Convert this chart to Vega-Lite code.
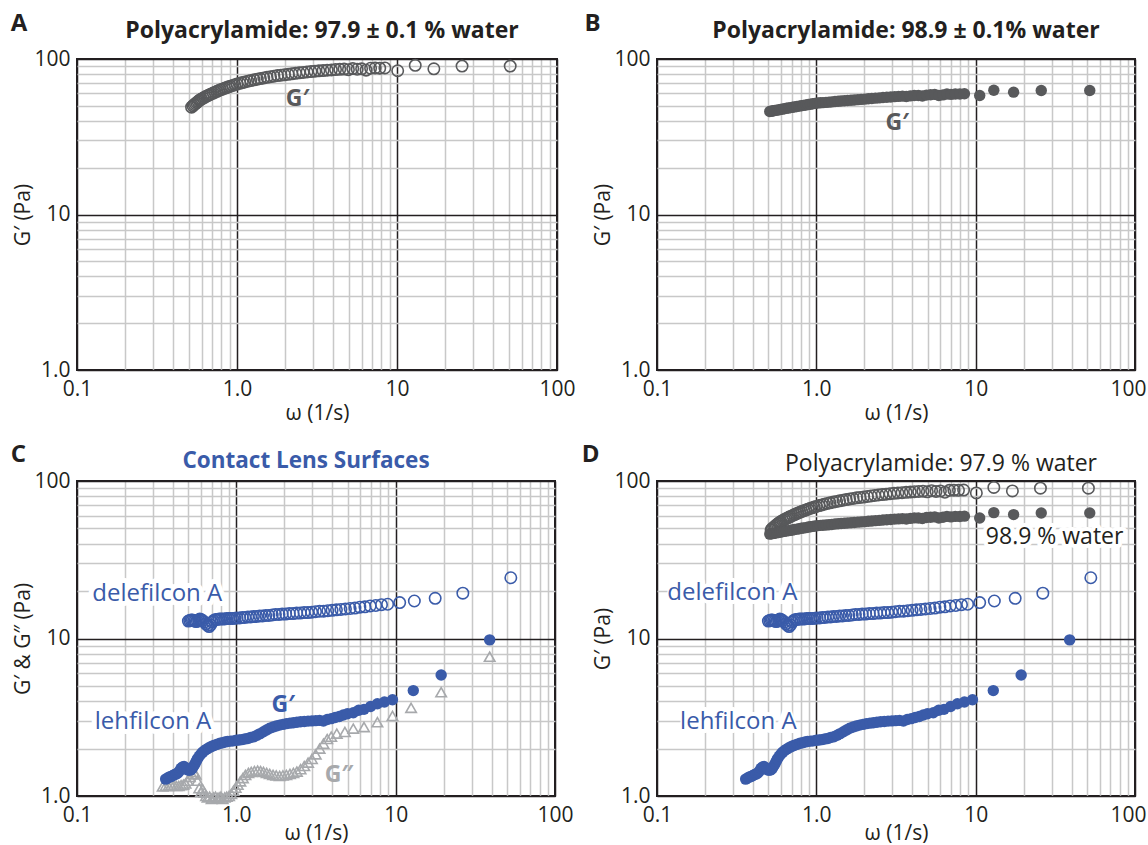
{
  "$schema": "https://vega.github.io/schema/vega-lite/v6.json",
  "padding": {"left": 9, "top": 10, "right": 0, "bottom": 0},
  "background": "white",
  "config": {
    "font": "Open Sans",
    "view": {"stroke": "#231f20", "strokeWidth": 2},
    "axis": {"labelFont": "Open Sans", "labelFontSize": 21, "labelColor": "#231f20", "titleFont": "Open Sans", "titleFontSize": 21, "titleFontWeight": "normal", "titleColor": "#231f20", "ticks": false, "domain": false, "labelOverlap": false, "labelFlush": false, "gridWidth": 1.5},
    "title": {"font": "Open Sans", "fontSize": 23, "color": "#231f20", "anchor": "middle", "fontWeight": "bold"}
  },
  "datasets": {
    "pam979": [
      {"omega":0.52,"G":49},{"omega":0.53,"G":50},{"omega":0.54,"G":50.8},{"omega":0.55,"G":51.6},{"omega":0.56,"G":52.4},{"omega":0.57,"G":53.2},{"omega":0.58,"G":54},{"omega":0.59,"G":54.7},{"omega":0.6,"G":55.3},{"omega":0.615,"G":56.1},{"omega":0.63,"G":56.9},{"omega":0.645,"G":57.6},{"omega":0.66,"G":58.3},{"omega":0.675,"G":59},{"omega":0.69,"G":59.6},{"omega":0.71,"G":60.4},{"omega":0.73,"G":61.2},{"omega":0.75,"G":62},{"omega":0.77,"G":62.7},{"omega":0.79,"G":63.4},{"omega":0.81,"G":64},{"omega":0.835,"G":64.8},{"omega":0.86,"G":65.5},{"omega":0.885,"G":66.2},{"omega":0.91,"G":66.9},{"omega":0.94,"G":67.6},{"omega":0.97,"G":68.3},{"omega":1.0,"G":69},{"omega":1.04,"G":69.8},{"omega":1.08,"G":70.5},{"omega":1.12,"G":71.2},{"omega":1.17,"G":72},{"omega":1.22,"G":72.7},{"omega":1.28,"G":73.5},{"omega":1.34,"G":74.2},{"omega":1.4,"G":74.8},{"omega":1.47,"G":75.5},{"omega":1.54,"G":76.2},{"omega":1.62,"G":76.9},{"omega":1.7,"G":77.5},{"omega":1.79,"G":78.2},{"omega":1.88,"G":78.6},{"omega":1.98,"G":79.1},{"omega":2.09,"G":79.7},{"omega":2.2,"G":80.3},{"omega":2.32,"G":80.9},{"omega":2.45,"G":81.5},{"omega":2.59,"G":82},{"omega":2.74,"G":82.5},{"omega":2.9,"G":83},{"omega":3.07,"G":83.5},{"omega":3.25,"G":83.9},{"omega":3.45,"G":84.3},{"omega":3.66,"G":84.7},{"omega":3.89,"G":85},{"omega":4.13,"G":85.5},{"omega":4.39,"G":85.8},{"omega":4.67,"G":86.2},{"omega":4.97,"G":85.4},{"omega":5.29,"G":86.8},{"omega":5.64,"G":85.9},{"omega":6.01,"G":86.5},{"omega":6.41,"G":84.8},{"omega":6.84,"G":87.2},{"omega":7.3,"G":87.5},{"omega":7.8,"G":87.3},{"omega":8.4,"G":87.6},{"omega":10.1,"G":84},{"omega":13,"G":91},{"omega":17,"G":86.5},{"omega":25.5,"G":90},{"omega":51,"G":90}
    ],
    "pam989": [
      {"omega":0.51,"G":46},{"omega":0.52,"G":46.2},{"omega":0.53,"G":46.3},{"omega":0.54,"G":46.5},{"omega":0.55,"G":46.7},{"omega":0.565,"G":46.9},{"omega":0.58,"G":47.1},{"omega":0.595,"G":47.4},{"omega":0.61,"G":47.6},{"omega":0.63,"G":47.9},{"omega":0.65,"G":48.2},{"omega":0.67,"G":48.4},{"omega":0.69,"G":48.7},{"omega":0.71,"G":48.9},{"omega":0.73,"G":49.2},{"omega":0.755,"G":49.5},{"omega":0.78,"G":49.8},{"omega":0.805,"G":50.1},{"omega":0.83,"G":50.3},{"omega":0.86,"G":50.6},{"omega":0.89,"G":51},{"omega":0.92,"G":51.2},{"omega":0.95,"G":51.5},{"omega":0.98,"G":51.8},{"omega":1.02,"G":52.1},{"omega":1.06,"G":52.3},{"omega":1.1,"G":52.4},{"omega":1.15,"G":52.6},{"omega":1.2,"G":52.8},{"omega":1.25,"G":53},{"omega":1.31,"G":53.3},{"omega":1.37,"G":53.5},{"omega":1.43,"G":53.7},{"omega":1.5,"G":53.9},{"omega":1.57,"G":54.1},{"omega":1.65,"G":54.3},{"omega":1.73,"G":54.5},{"omega":1.82,"G":54.8},{"omega":1.91,"G":55},{"omega":2.01,"G":55.2},{"omega":2.12,"G":55.5},{"omega":2.23,"G":55.7},{"omega":2.35,"G":56},{"omega":2.48,"G":56.2},{"omega":2.62,"G":56.5},{"omega":2.77,"G":56.7},{"omega":2.93,"G":57},{"omega":3.1,"G":57.3},{"omega":3.28,"G":57.5},{"omega":3.47,"G":57.7},{"omega":3.67,"G":57.4},{"omega":3.89,"G":57.9},{"omega":4.12,"G":58.3},{"omega":4.37,"G":58.2},{"omega":4.63,"G":57.8},{"omega":4.91,"G":58.6},{"omega":5.21,"G":58.9},{"omega":5.53,"G":59.2},{"omega":5.87,"G":58.2},{"omega":6.23,"G":58.8},{"omega":6.6,"G":59.6},{"omega":7.0,"G":59.2},{"omega":7.45,"G":59.6},{"omega":7.95,"G":59.5},{"omega":8.5,"G":59.8},{"omega":10.6,"G":58.2},{"omega":13,"G":63},{"omega":17.3,"G":61.2},{"omega":25.8,"G":62.7},{"omega":52,"G":62.7}
    ],
    "dele": [
      {"omega":0.5,"G":12.9},{"omega":0.51,"G":13.0},{"omega":0.52,"G":13.1},{"omega":0.53,"G":13.1},{"omega":0.54,"G":13.0},{"omega":0.55,"G":12.9},{"omega":0.56,"G":12.8},{"omega":0.57,"G":12.9},{"omega":0.58,"G":13.1},{"omega":0.59,"G":13.3},{"omega":0.6,"G":13.2},{"omega":0.615,"G":13.0},{"omega":0.63,"G":12.7},{"omega":0.645,"G":12.4},{"omega":0.66,"G":12.1},{"omega":0.675,"G":11.9},{"omega":0.69,"G":12.2},{"omega":0.705,"G":12.7},{"omega":0.72,"G":13.0},{"omega":0.74,"G":13.2},{"omega":0.76,"G":13.2},{"omega":0.78,"G":13.3},{"omega":0.8,"G":13.3},{"omega":0.82,"G":13.3},{"omega":0.845,"G":13.3},{"omega":0.87,"G":13.4},{"omega":0.895,"G":13.4},{"omega":0.92,"G":13.4},{"omega":0.95,"G":13.4},{"omega":0.98,"G":13.45},{"omega":1.01,"G":13.5},{"omega":1.05,"G":13.5},{"omega":1.09,"G":13.6},{"omega":1.13,"G":13.6},{"omega":1.18,"G":13.7},{"omega":1.23,"G":13.7},{"omega":1.28,"G":13.8},{"omega":1.34,"G":13.8},{"omega":1.4,"G":13.9},{"omega":1.46,"G":13.9},{"omega":1.53,"G":14.0},{"omega":1.6,"G":14.0},{"omega":1.68,"G":14.1},{"omega":1.76,"G":14.2},{"omega":1.85,"G":14.2},{"omega":1.94,"G":14.3},{"omega":2.04,"G":14.3},{"omega":2.15,"G":14.4},{"omega":2.27,"G":14.4},{"omega":2.39,"G":14.5},{"omega":2.52,"G":14.5},{"omega":2.66,"G":14.6},{"omega":2.81,"G":14.6},{"omega":2.97,"G":14.7},{"omega":3.14,"G":14.8},{"omega":3.33,"G":14.9},{"omega":3.53,"G":14.9},{"omega":3.75,"G":15.0},{"omega":3.99,"G":15.1},{"omega":4.25,"G":15.2},{"omega":4.53,"G":15.3},{"omega":4.84,"G":15.4},{"omega":5.18,"G":15.5},{"omega":5.55,"G":15.6},{"omega":5.96,"G":15.8},{"omega":6.41,"G":15.9},{"omega":6.92,"G":16.1},{"omega":7.5,"G":16.2},{"omega":8.15,"G":16.4},{"omega":8.9,"G":16.5},{"omega":10.6,"G":16.9},{"omega":13.1,"G":17.3},{"omega":17.7,"G":18.0},{"omega":26.4,"G":19.4},{"omega":52.8,"G":24.3}
    ],
    "lehG1": [
      {"omega":0.36,"G":1.28},{"omega":0.37,"G":1.3},{"omega":0.38,"G":1.32},{"omega":0.39,"G":1.33},{"omega":0.4,"G":1.35},{"omega":0.41,"G":1.37},{"omega":0.42,"G":1.38},{"omega":0.43,"G":1.4},{"omega":0.44,"G":1.44},{"omega":0.45,"G":1.5},{"omega":0.46,"G":1.53},{"omega":0.47,"G":1.54},{"omega":0.48,"G":1.5},{"omega":0.49,"G":1.48},{"omega":0.5,"G":1.46},{"omega":0.51,"G":1.46},{"omega":0.52,"G":1.47},{"omega":0.53,"G":1.5},{"omega":0.54,"G":1.55},{"omega":0.55,"G":1.6},{"omega":0.56,"G":1.66},{"omega":0.57,"G":1.72},{"omega":0.585,"G":1.79},{"omega":0.6,"G":1.85},{"omega":0.615,"G":1.9},{"omega":0.63,"G":1.94},{"omega":0.65,"G":1.98},{"omega":0.67,"G":2.02},{"omega":0.69,"G":2.05},{"omega":0.71,"G":2.08},{"omega":0.73,"G":2.1},{"omega":0.76,"G":2.13},{"omega":0.79,"G":2.16},{"omega":0.82,"G":2.18},{"omega":0.85,"G":2.2},{"omega":0.88,"G":2.22},{"omega":0.92,"G":2.23},{"omega":0.96,"G":2.24},{"omega":1.0,"G":2.26},{"omega":1.04,"G":2.27},{"omega":1.08,"G":2.28},{"omega":1.13,"G":2.3},{"omega":1.18,"G":2.32},{"omega":1.23,"G":2.35},{"omega":1.29,"G":2.38},{"omega":1.35,"G":2.43},{"omega":1.41,"G":2.49},{"omega":1.48,"G":2.56},{"omega":1.55,"G":2.63},{"omega":1.62,"G":2.69},{"omega":1.7,"G":2.74},{"omega":1.78,"G":2.78},{"omega":1.87,"G":2.82},{"omega":1.96,"G":2.85},{"omega":2.06,"G":2.88},{"omega":2.17,"G":2.9},{"omega":2.28,"G":2.92},{"omega":2.4,"G":2.94},{"omega":2.53,"G":2.96},{"omega":2.67,"G":2.97},{"omega":2.82,"G":2.99},{"omega":2.98,"G":3.0},{"omega":3.15,"G":3.01},{"omega":3.33,"G":3.02},{"omega":3.52,"G":2.99},{"omega":3.72,"G":3.06},{"omega":3.94,"G":3.1},{"omega":4.17,"G":3.15},{"omega":4.42,"G":3.2},{"omega":4.69,"G":3.27},{"omega":4.98,"G":3.33},{"omega":5.42,"G":3.38},{"omega":5.86,"G":3.5},{"omega":6.33,"G":3.55},{"omega":6.96,"G":3.7},{"omega":7.68,"G":3.85},{"omega":8.5,"G":3.95},{"omega":9.55,"G":4.08},{"omega":12.9,"G":4.67},{"omega":19.3,"G":5.87},{"omega":38.9,"G":9.8}
    ],
    "lehG2": [
      {"omega":0.345,"G":1.15},{"omega":0.36,"G":1.16},{"omega":0.375,"G":1.16},{"omega":0.39,"G":1.17},{"omega":0.405,"G":1.17},{"omega":0.42,"G":1.16},{"omega":0.435,"G":1.16},{"omega":0.45,"G":1.17},{"omega":0.465,"G":1.18},{"omega":0.48,"G":1.2},{"omega":0.495,"G":1.25},{"omega":0.51,"G":1.32},{"omega":0.525,"G":1.38},{"omega":0.54,"G":1.42},{"omega":0.555,"G":1.37},{"omega":0.57,"G":1.25},{"omega":0.585,"G":1.12},{"omega":0.6,"G":1.06},{"omega":0.615,"G":1.1},{"omega":0.63,"G":1.05},{"omega":0.645,"G":1.0},{"omega":0.66,"G":0.98},{"omega":0.68,"G":0.99},{"omega":0.7,"G":0.96},{"omega":0.72,"G":0.98},{"omega":0.74,"G":0.99},{"omega":0.76,"G":0.97},{"omega":0.78,"G":0.98},{"omega":0.8,"G":0.99},{"omega":0.82,"G":0.96},{"omega":0.845,"G":0.98},{"omega":0.87,"G":0.99},{"omega":0.9,"G":1.0},{"omega":0.93,"G":1.03},{"omega":0.96,"G":1.08},{"omega":0.99,"G":1.13},{"omega":1.02,"G":1.18},{"omega":1.06,"G":1.24},{"omega":1.1,"G":1.3},{"omega":1.14,"G":1.36},{"omega":1.19,"G":1.4},{"omega":1.24,"G":1.42},{"omega":1.3,"G":1.44},{"omega":1.36,"G":1.45},{"omega":1.42,"G":1.44},{"omega":1.48,"G":1.42},{"omega":1.55,"G":1.4},{"omega":1.62,"G":1.38},{"omega":1.7,"G":1.36},{"omega":1.78,"G":1.35},{"omega":1.87,"G":1.34},{"omega":1.96,"G":1.35},{"omega":2.06,"G":1.36},{"omega":2.17,"G":1.38},{"omega":2.28,"G":1.4},{"omega":2.4,"G":1.43},{"omega":2.53,"G":1.48},{"omega":2.67,"G":1.55},{"omega":2.82,"G":1.63},{"omega":2.98,"G":1.72},{"omega":3.15,"G":1.84},{"omega":3.33,"G":2.0},{"omega":3.52,"G":2.15},{"omega":3.72,"G":2.3},{"omega":3.94,"G":2.38},{"omega":4.27,"G":2.49},{"omega":4.8,"G":2.55},{"omega":5.42,"G":2.68},{"omega":6.33,"G":2.74},{"omega":7.68,"G":2.94},{"omega":9.55,"G":3.22},{"omega":12.5,"G":3.63},{"omega":19.3,"G":4.56},{"omega":38.9,"G":7.66}
    ]
  },
  "concat": [
    {
      "width": 480, "height": 311,
      "title": {"text": "Polyacrylamide: 97.9 ± 0.1 % water", "offset": -31, "dx": 5},
      "encoding": {
        "x": {"field": "omega", "type": "quantitative", "scale": {"type": "log", "domain": [0.1, 100], "nice": false},
          "axis": {"title": "ω (1/s)", "values": [0.1,0.2,0.3,0.4,0.5,0.6,0.7,0.8,0.9,1,2,3,4,5,6,7,8,9,10,20,30,40,50,60,70,80,90,100], "labelExpr": "datum.value == 0.1 ? '0.1' : datum.value == 1 ? '1.0' : datum.value == 10 ? '10' : datum.value == 100 ? '100' : ''", "labelPadding": 8, "titlePadding": 3, "gridColor": {"condition": {"test": "indexof([0.1,1,10,100], datum.value) >= 0", "value": "#231f20"}, "value": "#c8c8c8"}}},
        "y": {"field": "G", "type": "quantitative", "scale": {"type": "log", "domain": [1, 100], "nice": false},
          "axis": {"title": "G′ (Pa)", "values": [1,2,3,4,5,6,7,8,9,10,20,30,40,50,60,70,80,90,100], "labelExpr": "datum.value == 1 ? '1.0' : datum.value == 10 ? '10' : datum.value == 100 ? '100' : ''", "labelPadding": 7, "titlePadding": 0, "gridColor": {"condition": {"test": "indexof([1,10,100], datum.value) >= 0", "value": "#231f20"}, "value": "#c8c8c8"}}}
      },
      "layer": [
        {"data": {"name": "pam979"}, "mark": {"type": "point", "shape": "circle", "filled": false, "size": 130, "strokeWidth": 1.6, "color": "#58595b", "opacity": 1}},
        {"data": {"values": [{"label": "G′", "omega": 2.39, "G": 54.9}]}, "mark": {"type": "text", "fontSize": 23, "fontWeight": "bold", "color": "#58595b", "baseline": "middle"}, "encoding": {"text": {"field": "label"}}},
        {"data": {"values": [{"label": "A", "omega": 0.0434, "G": 168}]}, "mark": {"type": "text", "fontSize": 24, "fontWeight": "bold", "color": "#231f20", "baseline": "middle"}, "encoding": {"text": {"field": "label"}}}
      ]
    },
    {
      "width": 478, "height": 311,
      "title": {"text": "Polyacrylamide: 98.9 ± 0.1% water", "offset": -31, "dx": 10},
      "encoding": {
        "x": {"field": "omega", "type": "quantitative", "scale": {"type": "log", "domain": [0.1, 100], "nice": false},
          "axis": {"title": "ω (1/s)", "values": [0.1,0.2,0.3,0.4,0.5,0.6,0.7,0.8,0.9,1,2,3,4,5,6,7,8,9,10,20,30,40,50,60,70,80,90,100], "labelExpr": "datum.value == 0.1 ? '0.1' : datum.value == 1 ? '1.0' : datum.value == 10 ? '10' : datum.value == 100 ? '100' : ''", "labelAlign": {"condition": {"test": "datum.value == 100", "value": "right"}, "value": "center"}, "labelOffset": {"condition": {"test": "datum.value == 100", "value": 11}, "value": 0}, "labelPadding": 8, "titlePadding": 3, "gridColor": {"condition": {"test": "indexof([0.1,1,10,100], datum.value) >= 0", "value": "#231f20"}, "value": "#c8c8c8"}}},
        "y": {"field": "G", "type": "quantitative", "scale": {"type": "log", "domain": [1, 100], "nice": false},
          "axis": {"title": "G′ (Pa)", "values": [1,2,3,4,5,6,7,8,9,10,20,30,40,50,60,70,80,90,100], "labelExpr": "datum.value == 1 ? '1.0' : datum.value == 10 ? '10' : datum.value == 100 ? '100' : ''", "labelPadding": 7, "titlePadding": 0, "gridColor": {"condition": {"test": "indexof([1,10,100], datum.value) >= 0", "value": "#231f20"}, "value": "#c8c8c8"}}}
      },
      "layer": [
        {"data": {"name": "pam989"}, "mark": {"type": "circle", "size": 130, "color": "#58595b", "opacity": 1}},
        {"data": {"values": [{"label": "G′", "omega": 3.22, "G": 38.5}]}, "mark": {"type": "text", "fontSize": 23, "fontWeight": "bold", "color": "#58595b", "baseline": "middle"}, "encoding": {"text": {"field": "label"}}},
        {"data": {"values": [{"label": "B", "omega": 0.0394, "G": 168}]}, "mark": {"type": "text", "fontSize": 24, "fontWeight": "bold", "color": "#231f20", "baseline": "middle"}, "encoding": {"text": {"field": "label"}}}
      ]
    },
    {
      "width": 478, "height": 315,
      "title": {"text": "Contact Lens Surfaces", "offset": -29, "dx": -10, "fontSize": 22.5, "color": "#3a5ba9"},
      "encoding": {
        "x": {"field": "omega", "type": "quantitative", "scale": {"type": "log", "domain": [0.1, 100], "nice": false},
          "axis": {"title": "ω (1/s)", "values": [0.1,0.2,0.3,0.4,0.5,0.6,0.7,0.8,0.9,1,2,3,4,5,6,7,8,9,10,20,30,40,50,60,70,80,90,100], "labelExpr": "datum.value == 0.1 ? '0.1' : datum.value == 1 ? '1.0' : datum.value == 10 ? '10' : datum.value == 100 ? '100' : ''", "labelPadding": 8, "titlePadding": -3, "gridColor": {"condition": {"test": "indexof([0.1,1,10,100], datum.value) >= 0", "value": "#231f20"}, "value": "#c8c8c8"}}},
        "y": {"field": "G", "type": "quantitative", "scale": {"type": "log", "domain": [1, 100], "nice": false},
          "axis": {"title": "G′ & G″ (Pa)", "values": [1,2,3,4,5,6,7,8,9,10,20,30,40,50,60,70,80,90,100], "labelExpr": "datum.value == 1 ? '1.0' : datum.value == 10 ? '10' : datum.value == 100 ? '100' : ''", "labelPadding": 7, "titlePadding": 0, "gridColor": {"condition": {"test": "indexof([1,10,100], datum.value) >= 0", "value": "#231f20"}, "value": "#c8c8c8"}}}
      },
      "layer": [
        {"data": {"values": [{"label": "delefilcon A", "omega": 0.319, "G": 19.2}, {"label": "lehfilcon A", "omega": 0.30, "G": 2.93}]}, "mark": {"type": "text", "fontSize": 24, "color": "white", "stroke": "white", "strokeWidth": 10, "strokeJoin": "round", "baseline": "middle"}, "encoding": {"text": {"field": "label"}}},
        {"data": {"name": "lehG2"}, "mark": {"type": "point", "shape": "triangle-up", "filled": false, "size": 110, "strokeWidth": 1.6, "color": "#a7a9ac", "opacity": 1}},
        {"data": {"name": "dele"}, "mark": {"type": "point", "shape": "circle", "filled": false, "size": 130, "strokeWidth": 1.6, "color": "#3a5ba9", "opacity": 1}},
        {"data": {"name": "lehG1"}, "mark": {"type": "circle", "size": 130, "color": "#3a5ba9", "opacity": 1}},
        {"data": {"values": [{"label": "delefilcon A", "omega": 0.319, "G": 19.2}, {"label": "lehfilcon A", "omega": 0.30, "G": 2.93}]}, "mark": {"type": "text", "fontSize": 24, "color": "#3a5ba9", "baseline": "middle"}, "encoding": {"text": {"field": "label"}}},
        {"data": {"values": [{"label": "G′", "omega": 1.97, "G": 3.76}]}, "mark": {"type": "text", "fontSize": 23, "fontWeight": "bold", "color": "#3a5ba9", "baseline": "middle"}, "encoding": {"text": {"field": "label"}}},
        {"data": {"values": [{"label": "G″", "omega": 4.41, "G": 1.36}]}, "mark": {"type": "text", "fontSize": 23, "fontWeight": "bold", "color": "#a7a9ac", "baseline": "middle"}, "encoding": {"text": {"field": "label"}}},
        {"data": {"values": [{"label": "C", "omega": 0.0429, "G": 146}]}, "mark": {"type": "text", "fontSize": 24, "fontWeight": "bold", "color": "#231f20", "baseline": "middle"}, "encoding": {"text": {"field": "label"}}}
      ]
    },
    {
      "width": 478, "height": 315,
      "title": {"text": "Polyacrylamide: 97.9 % water", "offset": -33, "fontWeight": "normal", "fontSize": 23, "dx": 45},
      "encoding": {
        "x": {"field": "omega", "type": "quantitative", "scale": {"type": "log", "domain": [0.1, 100], "nice": false},
          "axis": {"title": "ω (1/s)", "values": [0.1,0.2,0.3,0.4,0.5,0.6,0.7,0.8,0.9,1,2,3,4,5,6,7,8,9,10,20,30,40,50,60,70,80,90,100], "labelExpr": "datum.value == 0.1 ? '0.1' : datum.value == 1 ? '1.0' : datum.value == 10 ? '10' : datum.value == 100 ? '100' : ''", "labelAlign": {"condition": {"test": "datum.value == 100", "value": "right"}, "value": "center"}, "labelOffset": {"condition": {"test": "datum.value == 100", "value": 11}, "value": 0}, "labelPadding": 8, "titlePadding": -3, "gridColor": {"condition": {"test": "indexof([0.1,1,10,100], datum.value) >= 0", "value": "#231f20"}, "value": "#c8c8c8"}}},
        "y": {"field": "G", "type": "quantitative", "scale": {"type": "log", "domain": [1, 100], "nice": false},
          "axis": {"title": "G′ (Pa)", "values": [1,2,3,4,5,6,7,8,9,10,20,30,40,50,60,70,80,90,100], "labelExpr": "datum.value == 1 ? '1.0' : datum.value == 10 ? '10' : datum.value == 100 ? '100' : ''", "labelPadding": 7, "titlePadding": 0, "gridColor": {"condition": {"test": "indexof([1,10,100], datum.value) >= 0", "value": "#231f20"}, "value": "#c8c8c8"}}}
      },
      "layer": [
        {"data": {"values": [{"label": "delefilcon A", "omega": 0.297, "G": 19.4}, {"label": "lehfilcon A", "omega": 0.324, "G": 2.96}, {"label": "98.9 % water", "omega": 31.3, "G": 44}]}, "mark": {"type": "text", "fontSize": 23, "color": "white", "stroke": "white", "strokeWidth": 8, "strokeJoin": "round", "baseline": "middle"}, "encoding": {"text": {"field": "label"}}},
        {"data": {"name": "pam979"}, "mark": {"type": "point", "shape": "circle", "filled": false, "size": 130, "strokeWidth": 1.6, "color": "#58595b", "opacity": 1}},
        {"data": {"name": "pam989"}, "mark": {"type": "circle", "size": 130, "color": "#58595b", "opacity": 1}},
        {"data": {"name": "dele"}, "mark": {"type": "point", "shape": "circle", "filled": false, "size": 130, "strokeWidth": 1.6, "color": "#3a5ba9", "opacity": 1}},
        {"data": {"name": "lehG1"}, "mark": {"type": "circle", "size": 130, "color": "#3a5ba9", "opacity": 1}},
        {"data": {"values": [{"label": "delefilcon A", "omega": 0.297, "G": 19.4}, {"label": "lehfilcon A", "omega": 0.324, "G": 2.96}]}, "mark": {"type": "text", "fontSize": 24, "color": "#3a5ba9", "baseline": "middle"}, "encoding": {"text": {"field": "label"}}},
        {"data": {"values": [{"label": "98.9 % water", "omega": 31.3, "G": 44}]}, "mark": {"type": "text", "fontSize": 23, "color": "#231f20", "baseline": "middle"}, "encoding": {"text": {"field": "label"}}},
        {"data": {"values": [{"label": "D", "omega": 0.0383, "G": 146}]}, "mark": {"type": "text", "fontSize": 24, "fontWeight": "bold", "color": "#231f20", "baseline": "middle"}, "encoding": {"text": {"field": "label"}}}
      ]
    }
  ],
  "columns": 2,
  "spacing": {"row": 111, "column": 100},
  "bounds": "flush"
}
